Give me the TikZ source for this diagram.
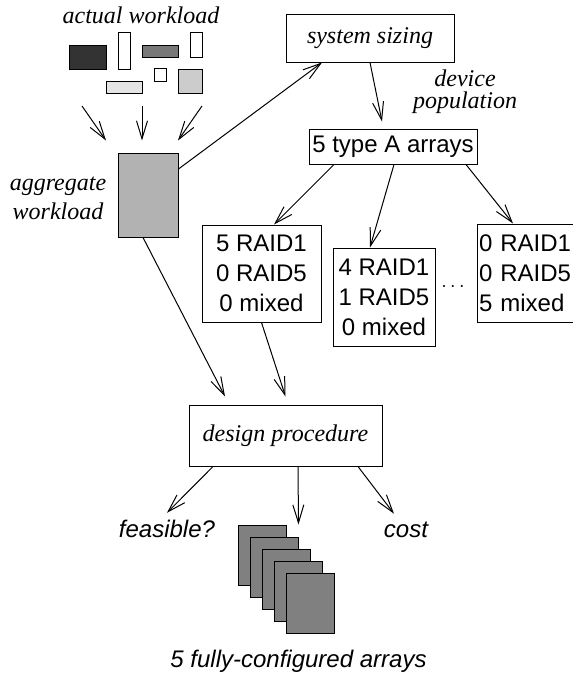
\documentclass[tikz,border=0pt]{standalone}
\usepackage{fontspec}
\setmainfont{Liberation Serif}
\setsansfont{Liberation Sans}
\usetikzlibrary{arrows.meta}

\begin{document}
\begin{tikzpicture}[
    x=0.5pt, y=-0.5pt,
    box/.style={draw, line width=0.5pt, inner sep=0pt, align=center, font=\sffamily\fontsize{12}{15}\selectfont},
    proc/.style={draw, line width=0.5pt, inner sep=0pt, font=\itshape\fontsize{12}{14.5}\selectfont},
    lbl/.style={inner sep=0pt, align=center, font=\itshape\fontsize{12}{14.5}\selectfont},
    res/.style={inner sep=0pt, font=\sffamily\itshape\fontsize{12}{14.5}\selectfont},
    blk/.style={draw, line width=0.5pt, inner sep=0pt},
    arr/.style={-{Straight Barb[length=9pt, width=5.5pt]}, line width=0.5pt}]
    \useasboundingbox (0,0) rectangle (573,675);
    \clip (0,0) rectangle (573,675);
    % actual workload
    \node[lbl] (actual) at (141,15) {actual workload};
    \foreach \x/\y/\w/\h/\c [count=\i] in {87.5/57/18.5/12/black!80, 124/50.5/6/18.5/white,
        160/51/18/6/black!53, 196/44.5/6/12.5/white, 124/87/18/6/black!10,
        160/74.5/6/6.5/white, 190/81/12/12/black!20}
      \node[blk, fill=\c, minimum width=\w pt, minimum height=\h pt] (w\i) at (\x,\y) {};
    \coordinate (in1) at (82,106);
    \coordinate (in2) at (142,106);
    \coordinate (in3) at (202,106);
    % aggregate workload
    \node[blk, fill=black!30, minimum width=30pt, minimum height=42pt] (agg) at (148,195) {};
    \node[lbl] (agglbl) at (58,198) {aggregate\\workload};
    % sizing and candidate configurations
    \node[proc, minimum width=84pt, minimum height=24pt] (sys) at (370,38) {system sizing};
    \node[lbl, font=\itshape\fontsize{12}{11}\selectfont] (pop) at (465,92) {device\\population};
    \node[box, minimum width=84pt, minimum height=17.5pt] (typeA) at (393,146.5) {5 type A arrays};
    \node[box, minimum width=59.5pt, minimum height=48.5pt] (r1) at (261.5,273.5) {5 RAID1\\0 RAID5\\0 mixed};
    \node[box, minimum width=51pt, minimum height=49pt] (r2) at (384,297) {4 RAID1\\1 RAID5\\0 mixed};
    \node[box, align=left, text width=50pt, inner xsep=1pt, minimum height=49pt] (r3) at (529,273) {0 RAID1\\0 RAID5\\5 mixed};
    \node[inner sep=0pt] (dots) at (453,287) {$\cdots$};
    % design procedure and results
    \node[proc, minimum width=96.5pt, minimum height=30.5pt] (des) at (285.5,435.5) {design procedure};
    \node[res] (feas) at (167,529) {feasible?};
    \node[res] (cost) at (406,530) {cost};
    \foreach \i in {1,...,5}
      \node[blk, fill=black!50, minimum width=24pt, minimum height=30pt] (a\i) at ({262+12*(\i-1)},{555+12*(\i-1)}) {};
    \node[res] (final) at (298.5,661) {5 fully-configured arrays};
    % connectors
    \draw[arr] (in1) -- ([xshift=-21pt, yshift=6pt]agg.north);
    \draw[arr] (in2) -- ([xshift=-3pt, yshift=6pt]agg.north);
    \draw[arr] (in3) -- ([xshift=15pt, yshift=6pt]agg.north);
    \draw[arr] ([yshift=13pt]agg.east) -- ([xshift=-24pt]sys.south);
    \draw[arr] (sys.south) -- ([xshift=-5.5pt, yshift=3.5pt]typeA.north);
    \draw[arr] ([xshift=-29.5pt]typeA.south) -- ([xshift=6.25pt]r1.north);
    \draw[arr] ([xshift=0.5pt]typeA.south) -- ([xshift=-7pt]r2.north);
    \draw[arr] ([xshift=36.5pt]typeA.south) -- ([xshift=-8pt]r3.north);
    \draw[arr] ([xshift=-2.5pt]agg.south) -- ([xshift=-30.25pt, yshift=4pt]des.north);
    \draw[arr] (r1.south) -- ([yshift=4pt]des.north);
    \draw[arr] ([xshift=-36.25pt]des.south) -- ([yshift=3.5pt]feas.north);
    \draw[arr] ([xshift=6.25pt]des.south) -- ([xshift=6pt]a1.north east);
    \draw[arr] ([xshift=36.25pt]des.south) -- ([xshift=-6pt, yshift=4pt]cost.north);
\end{tikzpicture}
\end{document}
